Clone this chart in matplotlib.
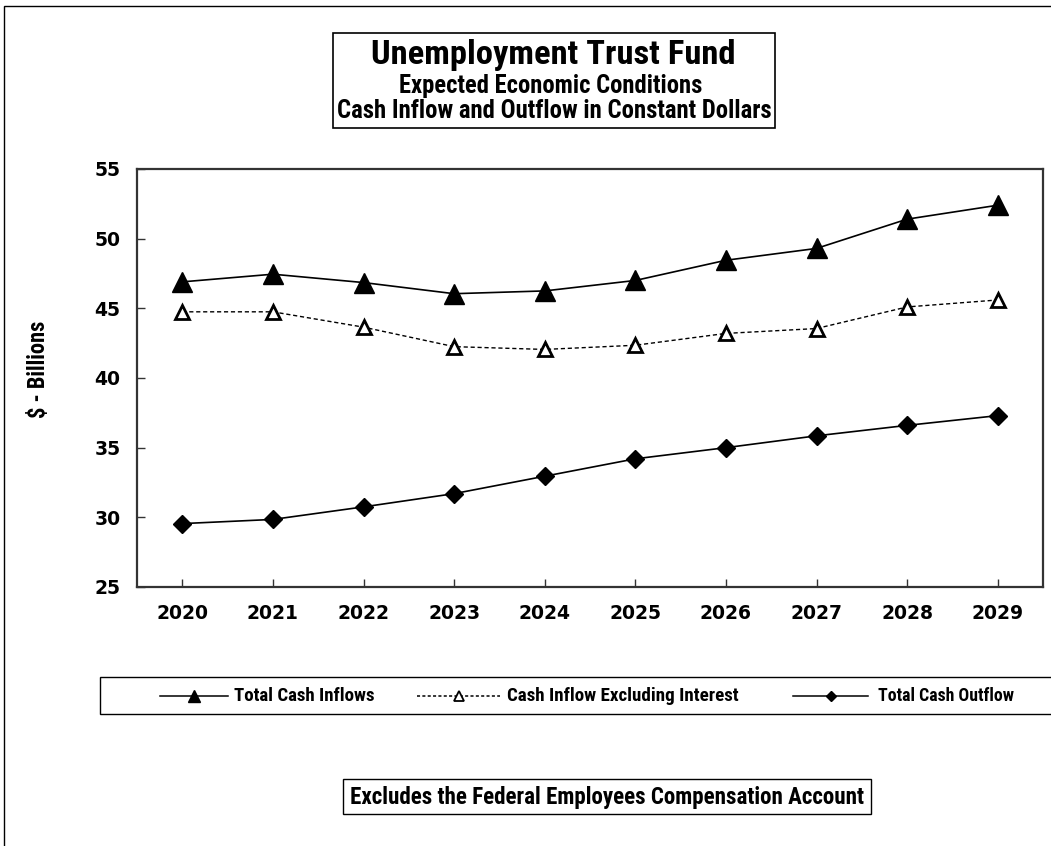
import matplotlib
matplotlib.use("Agg")
import matplotlib.pyplot as plt
from matplotlib.patches import Rectangle
from matplotlib.lines import Line2D
from matplotlib import font_manager

years = ["2020", "2021", "2022", "2023", "2024", "2025", "2026", "2027", "2028", "2029"]
total_inflows = [46.9, 47.45, 46.85, 46.05, 46.25, 47.0, 48.45, 49.3, 51.4, 52.4]
inflow_excl_interest = [44.75, 44.75, 43.65, 42.25, 42.05, 42.35, 43.2, 43.55, 45.1, 45.6]
total_outflow = [29.55, 29.85, 30.75, 31.7, 32.95, 34.2, 35.0, 35.85, 36.6, 37.3]
yticks = [25, 30, 35, 40, 45, 50, 55]

title_main = "Unemployment Trust Fund"
title_line2 = "Expected Economic Conditions"
title_line3 = "Cash Inflow and Outflow in Constant Dollars"
series_labels = ["Total Cash Inflows", "Cash Inflow Excluding Interest", "Total Cash Outflow"]
footnote = "Excludes the Federal Employees Compensation Account"
ylabel = "$ - Billions"


def condensed_bold():
    """Pick a narrow bold sans face if one is installed."""
    prefs = ["liberationsansnarrow-bold.", "robotocondensed-bold.",
             "opensans_condensed-bold", "opensanscondensed-bold",
             "dejavusanscondensed-bold.", "notosans-condensedbold.",
             "lato-heavy.", "liberationsans-bold."]
    files = [f.fname for f in font_manager.fontManager.ttflist]
    for p in prefs:
        for fn in files:
            if fn.lower().replace(" ", "").split("/")[-1].startswith(p):
                return font_manager.FontProperties(fname=fn)
    return font_manager.FontProperties(family="DejaVu Sans", weight="bold")


NARROW = condensed_bold()
BOLD = font_manager.FontProperties(family="DejaVu Sans", weight="bold")

W, H = 1051, 846
fig = plt.figure(figsize=(W / 100, H / 100), dpi=100)
fig.patch.set_facecolor("white")


def fx(px):
    return px / W


def fy(py):
    return 1 - py / H


def ntext(cx, cy, s, target_w, **kw):
    """Narrow bold text sized so its drawn width equals target_w pixels."""
    fp = NARROW.copy()
    fp.set_size(12)
    t = fig.text(fx(cx), fy(cy), s, fontproperties=fp, **kw)
    r = fig.canvas.get_renderer()
    w = t.get_window_extent(r).width
    fp.set_size(12 * target_w / w)
    t.set_fontproperties(fp)
    return t


# outer frame, running off the right and bottom edges
fig.patches.append(Rectangle((fx(4), -0.1), 1.2, fy(6) + 0.1,
                             transform=fig.transFigure, fill=False,
                             edgecolor="black", linewidth=1.0))

ax = fig.add_axes([fx(137), fy(587), fx(1043 - 137), (587 - 169) / H])
x = list(range(len(years)))

ax.plot(x, total_inflows, color="black", linewidth=1.2, marker="^",
        markersize=15, markerfacecolor="black", markeredgecolor="black")
ax.plot(x, inflow_excl_interest, color="black", linewidth=1.0,
        linestyle=(0, (3, 2)), marker="^", markersize=10,
        markerfacecolor="white", markeredgecolor="black", markeredgewidth=2.0)
ax.plot(x, total_outflow, color="black", linewidth=1.2, marker="D",
        markersize=9.5, markerfacecolor="black", markeredgecolor="black")

ax.set_xlim(-0.5, len(years) - 0.5)
ax.set_ylim(25, 55)
ax.set_yticks(yticks)
ax.set_xticks(x)
ax.set_xticklabels(years)
for lab in ax.get_xticklabels() + ax.get_yticklabels():
    lab.set_fontproperties(BOLD)
    lab.set_fontsize(13.5)
ax.tick_params(axis="both", direction="in", length=6, width=1.0, color="#333333")
ax.tick_params(axis="x", pad=12)
ax.tick_params(axis="y", pad=12)
for s in ax.spines.values():
    s.set_color("#333333")
    s.set_linewidth(1.6)

yl = ntext(39, 369, ylabel, 98, rotation=90, ha="center", va="center")
# rotated text: fit on its height instead
r = fig.canvas.get_renderer()
hgt = yl.get_window_extent(r).height
yl.set_fontsize(yl.get_fontsize() * 98 / hgt)

# title block
box_l, box_r, box_t, box_b = 333, 775, 33, 128
fig.patches.append(Rectangle((fx(box_l), fy(box_b)), fx(box_r - box_l),
                             (box_b - box_t) / H, transform=fig.transFigure,
                             facecolor="white", edgecolor="black",
                             linewidth=1.2))
ntext(553.5, 64, title_main, 363, ha="center", va="baseline")
ntext(550.5, 93, title_line2, 305, ha="center", va="baseline")
ntext(554, 118, title_line3, 434, ha="center", va="baseline")

# legend row
leg_l, leg_t, leg_b = 100, 677, 714
leg_y = 695.5
fig.patches.append(Rectangle((fx(leg_l), fy(leg_b)), 1.2,
                             (leg_b - leg_t) / H, transform=fig.transFigure,
                             facecolor="white", edgecolor="black",
                             linewidth=1.0))
legend_items = [
    (160, 228, 234, 141, dict(linestyle="-", marker="^", markersize=8,
                              markerfacecolor="black")),
    (417, 500, 507, 231, dict(linestyle=(0, (2, 1.5)), marker="^",
                              markersize=6.5, markerfacecolor="white",
                              markeredgewidth=1.3)),
    (793, 868, 878, 136, dict(linestyle="-", marker="D", markersize=5.5,
                              markerfacecolor="black")),
]
for (x0, x1, tx, tw, style), label in zip(legend_items, series_labels):
    fig.add_artist(Line2D([fx(x0), fx((x0 + x1) / 2), fx(x1)],
                          [fy(leg_y)] * 3, transform=fig.transFigure,
                          color="black", linewidth=1.1, markevery=[1],
                          markeredgecolor="black", **style))
    ntext(tx + tw / 2, leg_y, label, tw, ha="center", va="center")

# footnote
fn = ntext(607.5, 797, footnote, 517, ha="center", va="center")
fig.patches.append(Rectangle((fx(343), fy(814)), fx(871 - 343), 35 / H,
                             transform=fig.transFigure, facecolor="white",
                             edgecolor="black", linewidth=1.0, zorder=0))

fig.savefig("out.png", dpi=100, facecolor="white")
